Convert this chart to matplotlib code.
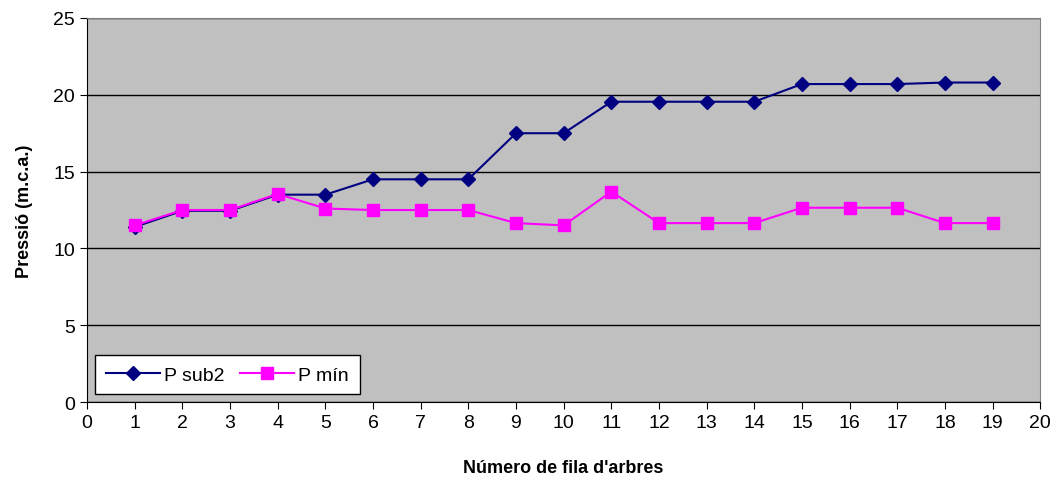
import matplotlib
matplotlib.use("Agg")
from matplotlib import pyplot as plt

plt.rcParams['font.family'] = ['Liberation Sans', 'DejaVu Sans']

# data
fila = list(range(1, 20))
p_sub2 = [11.4, 12.45, 12.45, 13.5, 13.5, 14.5, 14.5, 14.5, 17.5, 17.5,
          19.55, 19.55, 19.55, 19.55, 20.7, 20.7, 20.7, 20.8, 20.8]
p_min = [11.5, 12.5, 12.5, 13.55, 12.6, 12.5, 12.5, 12.5, 11.65, 11.5,
         13.7, 11.65, 11.65, 11.65, 12.65, 12.65, 12.65, 11.65, 11.65]

fig = plt.figure(figsize=(10.55, 4.81), dpi=100)
ax = fig.add_axes([0.0825, 0.162, 0.9035, 0.7985])
ax.set_facecolor('#c0c0c0')

ax.plot(fila, p_sub2, color='#000080', marker='D', markersize=7,
        linewidth=1.5, label='P sub2', zorder=3)
ax.plot(fila, p_min, color='#ff00ff', marker='s', markersize=8,
        linewidth=1.5, label='P mín', zorder=4)

ax.set_xlim(0, 20)
ax.set_ylim(0, 25)
ax.set_xticks(range(0, 21))
ax.set_yticks(range(0, 26, 5))
ax.yaxis.grid(True, color='black', linewidth=1)
ax.set_axisbelow(True)
ax.tick_params(axis='both', labelsize=14, direction='out', length=5,
               color='black')
for side in ['top', 'right']:
    ax.spines[side].set_color('#808080')
for side in ['left', 'bottom']:
    ax.spines[side].set_color('black')

ax.set_xlabel("Número de fila d'arbres", fontsize=13, fontweight='bold',
              labelpad=20)
ax.set_ylabel('Pressió (m.c.a.)', fontsize=13, fontweight='bold',
              labelpad=15)

leg = ax.legend(loc='lower left', ncol=2, fontsize=14, frameon=True,
                fancybox=False, borderaxespad=0.4, handlelength=2.8,
                columnspacing=0.8, handletextpad=0.2, borderpad=0.55)
leg.get_frame().set_edgecolor('black')
leg.get_frame().set_facecolor('white')
leg.get_frame().set_alpha(1)

fig.savefig('out.png', dpi=100)
